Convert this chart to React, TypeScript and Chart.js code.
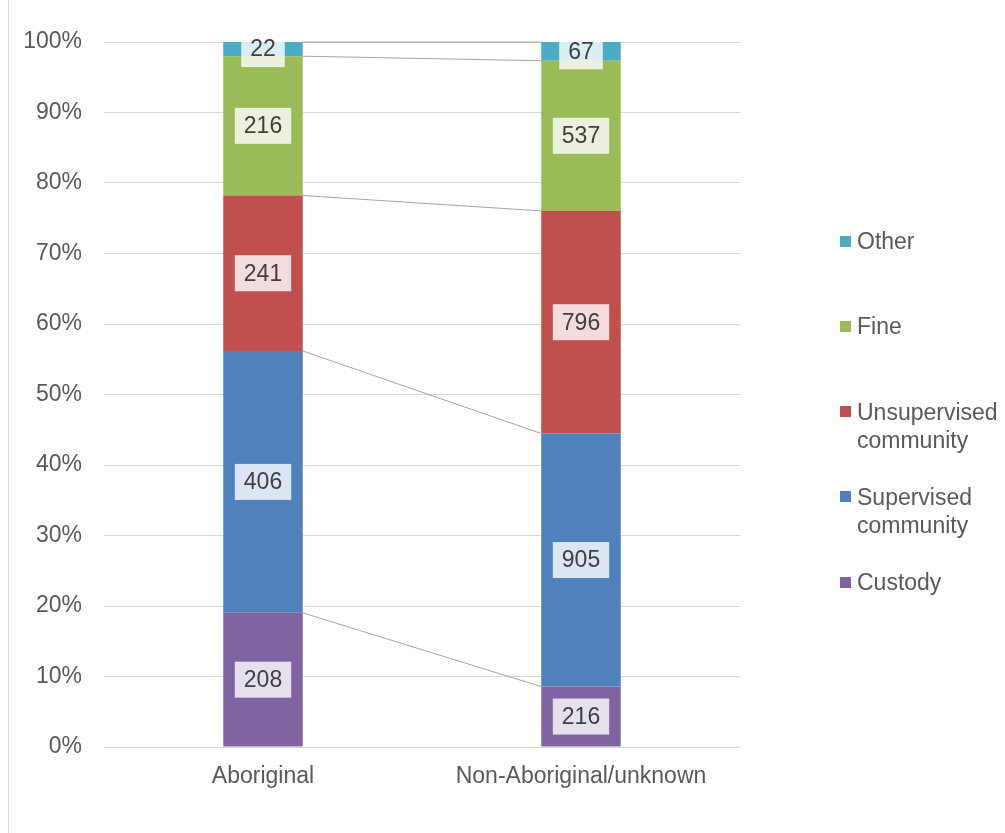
import React, { useEffect, useRef } from "react";
import { Chart, registerables } from "chart.js";

Chart.register(...registerables);

const categories = ["Aboriginal", "Non-Aboriginal/unknown"];
const seriesNames = ["Custody", "Supervised community", "Unsupervised community", "Fine", "Other"];
const legendLines = [["Custody"], ["Supervised", "community"], ["Unsupervised", "community"], ["Fine"], ["Other"]];
const custody = [208, 216];
const supervised = [406, 905];
const unsupervised = [241, 796];
const fine = [216, 537];
const other = [22, 67];
const colors = ["#8064A2", "#4F81BD", "#C0504D", "#9BBB59", "#4BACC6"];
const yTicks = [0, 10, 20, 30, 40, 50, 60, 70, 80, 90, 100];

const FONT = "'Liberation Sans', Arial, sans-serif";

export default function App() {
  const ref = useRef<HTMLCanvasElement>(null);
  useEffect(() => {
    document.body.style.margin = "0";
    const counts = [custody, supervised, unsupervised, fine, other];
    const totals = categories.map((_, i) => counts.reduce((s, a) => s + a[i], 0));
    const pct = counts.map((a) => a.map((v, i) => (v / totals[i]) * 100));

    const seriesLines = {
      id: "seriesLines",
      beforeDatasetsDraw(chart: any) {
        const ctx = chart.ctx;
        ctx.save();
        ctx.strokeStyle = "#A6A6A6";
        ctx.lineWidth = 1;
        chart.data.datasets.forEach((_: any, di: number) => {
          const meta = chart.getDatasetMeta(di);
          const a = meta.data[0];
          const b = meta.data[1];
          ctx.beginPath();
          ctx.moveTo(a.x + a.width / 2, a.y);
          ctx.lineTo(b.x - b.width / 2, b.y);
          ctx.stroke();
        });
        ctx.restore();
      },
    };

    const dataLabels = {
      id: "dataLabels",
      afterDatasetsDraw(chart: any) {
        const ctx = chart.ctx;
        ctx.save();
        ctx.font = `23px ${FONT}`;
        ctx.textAlign = "center";
        ctx.textBaseline = "middle";
        chart.data.datasets.forEach((_: any, di: number) => {
          const meta = chart.getDatasetMeta(di);
          meta.data.forEach((el: any, i: number) => {
            const text = String(counts[di][i]);
            const cy = (el.y + el.base) / 2;
            const w = ctx.measureText(text).width + 18;
            const h = 36;
            ctx.fillStyle = "rgba(255,255,255,0.8)";
            ctx.fillRect(el.x - w / 2, cy - h / 2, w, h);
            ctx.fillStyle = "#404040";
            ctx.fillText(text, el.x, cy + 1);
          });
        });
        ctx.restore();
      },
    };

    const chart = new Chart(ref.current!, {
      type: "bar",
      data: {
        labels: categories,
        datasets: seriesNames.map((name, di) => ({
          label: name,
          data: pct[di],
          backgroundColor: colors[di],
          barPercentage: 0.5,
          categoryPercentage: 0.5,
        })),
      },
      options: {
        animation: false,
        responsive: false,
        maintainAspectRatio: false,
        layout: { padding: { top: 42, right: 265, left: 0, bottom: 0 } },
        plugins: { legend: { display: false }, tooltip: { enabled: false } },
        scales: {
          x: {
            stacked: true,
            grid: { display: false, drawTicks: false },
            border: { display: false },
            ticks: { color: "#595959", font: { family: FONT, size: 23 }, padding: 16 },
            afterFit(scale: any) {
              scale.height = 86;
            },
          },
          y: {
            stacked: true,
            min: 0,
            max: 100,
            afterBuildTicks(scale: any) {
              scale.ticks = yTicks.map((v) => ({ value: v }));
            },
            grid: { color: "#D9D9D9", lineWidth: 1, drawTicks: false },
            border: { display: false },
            ticks: {
              color: "#595959",
              font: { family: FONT, size: 23 },
              padding: 22,
              callback: (v: any) => v + "%",
            },
            afterFit(scale: any) {
              scale.width = 104;
            },
          },
        },
      },
      plugins: [seriesLines, dataLabels],
    });
    return () => chart.destroy();
  }, []);

  const legendOrder = [4, 3, 2, 1, 0];
  return (
    <div style={{ position: "relative", width: 1005, height: 833, background: "#fff", fontFamily: FONT }}>
      <canvas ref={ref} width={1005} height={833} style={{ position: "absolute", left: 0, top: 0 }} />
      <div style={{ position: "absolute", left: 8, top: 0, width: 1, height: 833, background: "#D9D9D9" }} />
      {legendOrder.map((di, k) => (
        <div key={di} style={{ position: "absolute", left: 840, top: 227 + k * 85.25, display: "flex", alignItems: "flex-start" }}>
          <div style={{ width: 11, height: 11, background: colors[di], marginTop: 8.5, marginRight: 6 }} />
          <div style={{ color: "#595959", fontSize: 23, lineHeight: "28px", whiteSpace: "nowrap" }}>
            {legendLines[di].map((l, j) => (
              <div key={j}>{l}</div>
            ))}
          </div>
        </div>
      ))}
    </div>
  );
}
